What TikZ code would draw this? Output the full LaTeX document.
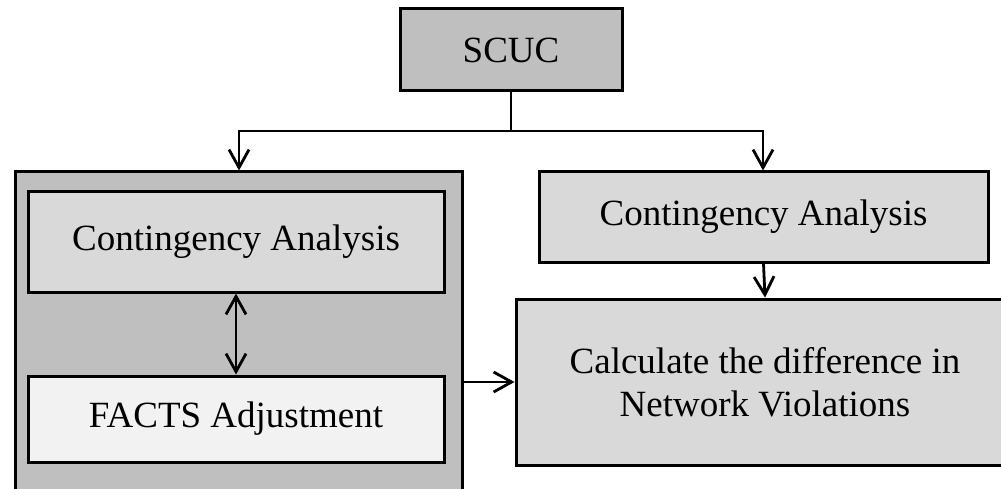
\documentclass[tikz,border=0pt]{standalone}
\usepackage{fontspec}
\setmainfont{Liberation Serif}
\usetikzlibrary{arrows.meta}
\definecolor{gdark}{HTML}{BFBFBF}
\definecolor{gmid}{HTML}{D9D9D9}
\definecolor{glight}{HTML}{F2F2F2}
\begin{document}
\begin{tikzpicture}[x=1pt,y=-1pt,
  >={Straight Barb[length=18pt,width=20pt]},
  box/.style={draw=black,line width=3pt,inner sep=0pt,align=center,
    font=\fontsize{37}{43}\selectfont},
  conn/.style={line width=2.8pt}]
\useasboundingbox (0,0) rectangle (1001,489);
\clip (0,0) rectangle (1001,489);
\node[box,fill=gdark,minimum width=222pt,minimum height=82pt] (scuc) at (511,50) {SCUC};
\node[box,fill=gdark,minimum width=447pt,minimum height=350pt] (outer) at (238.5,347) {};
\node[box,fill=gmid,minimum width=416pt,minimum height=100pt] (lca) at (236,242) {Contingency Analysis};
\node[box,fill=glight,minimum width=416pt,minimum height=86pt] (facts) at (236,419) {FACTS Adjustment};
\node[box,fill=gmid,minimum width=449pt,minimum height=90pt] (rca) at (763.5,217) {Contingency Analysis};
\node[box,fill=gmid,minimum width=498pt,minimum height=166pt] (calc) at (765,382) {Calculate the difference in\\Network Violations};
\coordinate (bl) at (239,131);
\coordinate (br) at (763,131);
\draw[conn] (scuc.south) -- (scuc.south |- bl);
\draw[conn,->] (scuc.south |- bl) -- (bl) -- (bl |- outer.north);
\draw[conn,->] (scuc.south |- br) -- (br) -- (br |- rca.north);
\draw[conn,<->] (lca.south) -- (facts.north);
\draw[conn,->] (rca.south) -- (calc.north);
\draw[conn,->] (calc.west -| outer.east) -- (calc.west);
\end{tikzpicture}
\end{document}
